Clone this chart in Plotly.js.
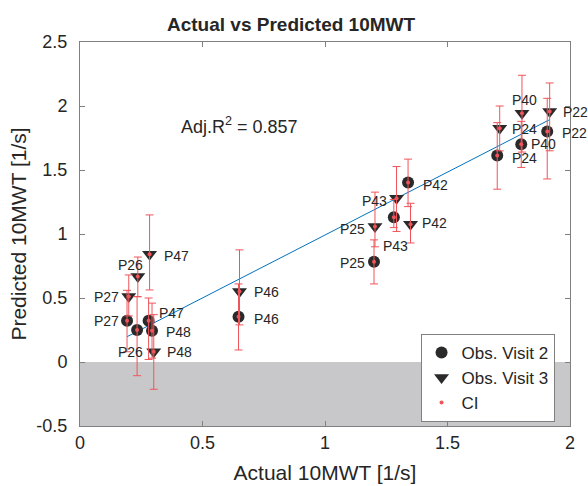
<!DOCTYPE html>
<html>
<head>
<meta charset="utf-8">
<script src="https://cdn.plot.ly/plotly-3.0.1.min.js"></script>
<style>html,body{margin:0;padding:0;background:#fff;}#chart{width:588px;height:486px;}</style>
</head>
<body>
<div id="chart"></div>
<script>
// ---- data ----
const participantsV2 = ['P27','P26','P47','P48','P46','P25','P43','P42','P24','P40','P22'];
const actualV2 = [0.192,0.233,0.280,0.294,0.647,1.200,1.281,1.339,1.703,1.801,1.907];
const predV2   = [0.323,0.250,0.323,0.245,0.354,0.784,1.131,1.402,1.613,1.702,1.801];
const ciLowV2  = [0.08,-0.107,0.02,0.03,0.094,0.61,1.05,1.214,1.35,1.52,1.43];
const ciHighV2 = [0.56,0.511,0.50,0.46,0.61,0.954,1.27,1.585,1.87,1.88,2.06];

const participantsV3 = ['P27','P26','P47','P48','P46','P25','P43','P42','P24','P40','P22'];
const actualV3 = [0.199,0.236,0.284,0.301,0.651,1.204,1.292,1.349,1.713,1.804,1.917];
const predV3   = [0.511,0.668,0.842,0.081,0.550,1.058,1.280,1.077,1.827,1.944,1.957];
const ciLowV3  = [0.36,0.51,0.563,-0.213,0.29,0.90,1.02,0.93,1.65,1.64,1.65];
const ciHighV3 = [0.68,0.82,1.149,0.37,0.876,1.327,1.527,1.24,2.0,2.24,2.18];

const fitSlope = 0.983;
const fitIntercept = 0.009;
const adjR2 = 0.857;

// ---- label placement (style, not data): [anchor, xshift, yshift] ----
const labelPosV2 = [['right',-6,0],['center',-7,-22],['left',8,8],['left',12,-1],['left',13,-2],
                    ['right',-7,-1],['center',2,-29],['left',13,-2],['left',13,-2],['left',8,0],['left',13,-2]];
const labelPosV3 = [['right',-8,0],['center',-7,12],['left',12,-2],['left',11,0],['left',12,0],
                    ['right',-8,-2],['right',-8,-3],['left',9,1],['left',10,-1],['center',3,13],['left',11,0]];

const FONT = '"Liberation Sans", Arial, Helvetica, sans-serif';
const TXT = '#262626';
const RED = '#f0545a';

const allX = actualV2.concat(actualV3);
const allY = predV2.concat(predV3);
const allLo = ciLowV2.concat(ciLowV3);
const allHi = ciHighV2.concat(ciHighV3);
const xMin = Math.min(...allX), xMax = Math.max(...allX);

const traces = [
  { // regression line
    x: [xMin, xMax], y: [fitIntercept + fitSlope*xMin, fitIntercept + fitSlope*xMax],
    mode: 'lines', line: {color: '#0072BD', width: 1}, showlegend: false, hoverinfo: 'skip'
  },
  {
    name: 'Obs. Visit 2', x: actualV2, y: predV2, mode: 'markers',
    marker: {symbol: 'circle', size: 12, color: '#2a2a2a'}
  },
  {
    name: 'Obs. Visit 3', x: actualV3, y: predV3, mode: 'markers',
    marker: {symbol: 'triangle-down', size: 13, color: '#2a2a2a'}
  },
  {
    name: 'CI', x: allX, y: allY, mode: 'markers',
    marker: {symbol: 'circle', size: 4, color: RED},
    error_y: {
      type: 'data', symmetric: false,
      array: allHi.map((h,i) => h - allY[i]),
      arrayminus: allY.map((v,i) => v - allLo[i]),
      color: RED, thickness: 1, width: 4
    }
  }
];

const annotations = [];
function addLabels(names, xs, ys, pos) {
  names.forEach((n,i) => {
    annotations.push({
      x: xs[i], y: ys[i], xref: 'x', yref: 'y', text: n, showarrow: false,
      xanchor: pos[i][0], yanchor: 'middle', xshift: pos[i][1], yshift: pos[i][2],
      font: {family: FONT, size: 14, color: TXT}
    });
  });
}
addLabels(participantsV2, actualV2, predV2, labelPosV2);
addLabels(participantsV3, actualV3, predV3, labelPosV3);
annotations.push({
  x: 0.405, y: 1.85, xref: 'x', yref: 'y', xanchor: 'left', yanchor: 'middle', showarrow: false,
  text: 'Adj.R<sup>2</sup> = ' + adjR2.toFixed(3), font: {family: FONT, size: 18, color: TXT}
});

const layout = {
  width: 588, height: 486,
  margin: {l: 79.5, r: 17.5, t: 42.3, b: 60},
  paper_bgcolor: '#fff', plot_bgcolor: '#fff',
  font: {family: FONT, color: TXT},
  title: {text: '<b>Actual vs Predicted 10MWT</b>', x: 0.495, xanchor: 'center', y: 0.949, yanchor: 'middle',
          font: {family: FONT, size: 19, color: TXT}},
  xaxis: {
    range: [0, 2], tickvals: [0, 0.5, 1, 1.5, 2], ticktext: ['0','0.5','1','1.5','2'],
    ticks: 'inside', ticklen: 5, tickcolor: '#808080', showgrid: false, zeroline: false,
    showline: true, linecolor: '#808080', linewidth: 1, mirror: 'ticks',
    tickfont: {family: FONT, size: 18, color: TXT},
    title: {text: 'Actual 10MWT [1/s]', font: {family: FONT, size: 21, color: TXT}, standoff: 13}
  },
  yaxis: {
    range: [-0.5, 2.5], tickvals: [-0.5, 0, 0.5, 1, 1.5, 2, 2.5],
    ticktext: ['-0.5','0','0.5','1','1.5','2','2.5'],
    ticks: 'inside', ticklen: 5, tickcolor: '#808080', showgrid: false, zeroline: false,
    showline: true, linecolor: '#808080', linewidth: 1, mirror: 'ticks',
    tickfont: {family: FONT, size: 18, color: TXT}, ticklabelstandoff: 8,
    title: {text: 'Predicted 10MWT [1/s]', font: {family: FONT, size: 21, color: TXT}, standoff: 4}
  },
  shapes: [{
    type: 'rect', xref: 'paper', yref: 'y', x0: 0, x1: 1, y0: -0.5, y1: 0,
    fillcolor: '#c8c8ca', line: {width: 0}, layer: 'below'
  }],
  legend: {
    x: 0.695, y: 0.24, xanchor: 'left', yanchor: 'top',
    bgcolor: '#fff', bordercolor: '#808080', borderwidth: 1,
    font: {family: FONT, size: 17, color: TXT}, tracegroupgap: 0
  },
  annotations: annotations,
  showlegend: true
};

Plotly.newPlot('chart', traces, layout, {displayModeBar: false, staticPlot: true});
</script>
</body>
</html>
